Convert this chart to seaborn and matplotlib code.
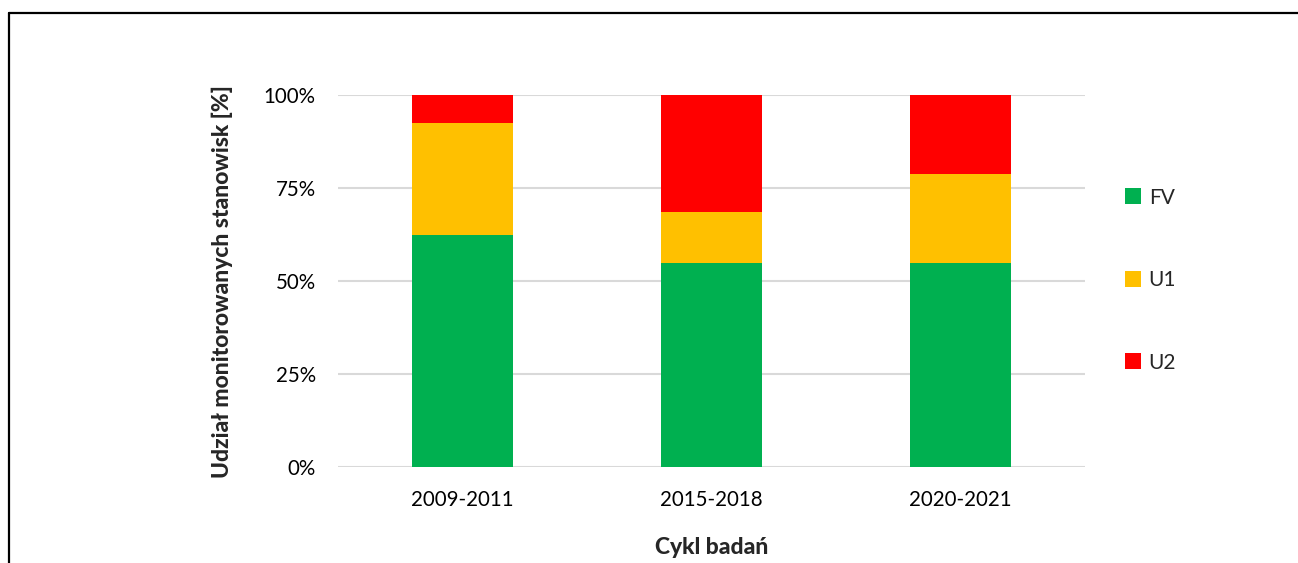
import matplotlib
matplotlib.use("Agg")
import matplotlib.pyplot as plt
from matplotlib.patches import Patch
from matplotlib.lines import Line2D
from matplotlib.ticker import FuncFormatter
import seaborn as sns
import pandas as pd
import numpy as np

# Cycles and share of monitored sites per conservation status [%]
cycles = ["2009-2011", "2015-2018", "2020-2021"]
fv = [62.5, 55.0, 55.0]
u1 = [30.0, 13.6, 23.8]
u2 = [7.5, 31.4, 21.2]

statuses = ["FV", "U1", "U2"]
colors = {"FV": "#00b050", "U1": "#ffc000", "U2": "#ff0000"}

sns.set_theme(style="white")
plt.rcParams["font.family"] = ["Lato", "DejaVu Sans"]

fig = plt.figure(figsize=(12.98, 5.63), dpi=100)
ax = fig.add_axes([338 / 1298, 1 - 467.3 / 563, (1085 - 338) / 1298, (467.3 - 95.3) / 563])

df = pd.DataFrame({"cycle": cycles, "FV": fv, "U1": u1, "U2": u2})
df["top_fv"] = df["FV"]
df["top_u1"] = df["FV"] + df["U1"]
df["top_u2"] = df["FV"] + df["U1"] + df["U2"]

# Stacked bars: draw cumulative totals from the top segment down
for col, status in [("top_u2", "U2"), ("top_u1", "U1"), ("top_fv", "FV")]:
    sns.barplot(data=df, x="cycle", y=col, color=colors[status], width=0.407,
                saturation=1, ax=ax, zorder=3, linewidth=0)

ax.set_xlim(-0.5, 2.5)
ax.set_ylim(0, 100)
ax.set_yticks([0, 25, 50, 75, 100])
ax.yaxis.set_major_formatter(FuncFormatter(lambda v, p: f"{v:.0f}%"))
ax.grid(axis="y", color="#d9d9d9", linewidth=1.5, zorder=0)
ax.grid(axis="x", visible=False)
for s in ax.spines.values():
    s.set_visible(False)
ax.tick_params(axis="y", length=0, pad=16, labelsize=14.8, colors="black")
ax.tick_params(axis="x", length=0, pad=16, labelsize=14.8, colors="black")

ax.set_xlabel("Cykl badań", fontsize=16.5, fontweight="black", labelpad=20)
ax.set_ylabel("Udział monitorowanych stanowisk [%]", fontsize=16.5, fontweight="black", labelpad=22)

handles = [Patch(facecolor=colors[s], edgecolor="none", label=s) for s in statuses]
fig.legend(handles=handles, loc="center left", bbox_to_anchor=(1106 / 1298, 1 - 280 / 563),
           frameon=False, fontsize=15, handlelength=0.8, handleheight=0.8,
           handletextpad=0.35, labelspacing=3.0)

# Outer frame of the figure
fig.add_artist(Line2D([9 / 1298, 1.01], [1 - 12.5 / 563, 1 - 12.5 / 563],
                      transform=fig.transFigure, color="black", linewidth=1.6))
fig.add_artist(Line2D([9 / 1298, 9 / 1298], [1 - 12.5 / 563, -0.01],
                      transform=fig.transFigure, color="black", linewidth=1.6))

fig.savefig("out.png", dpi=100, facecolor="white")
